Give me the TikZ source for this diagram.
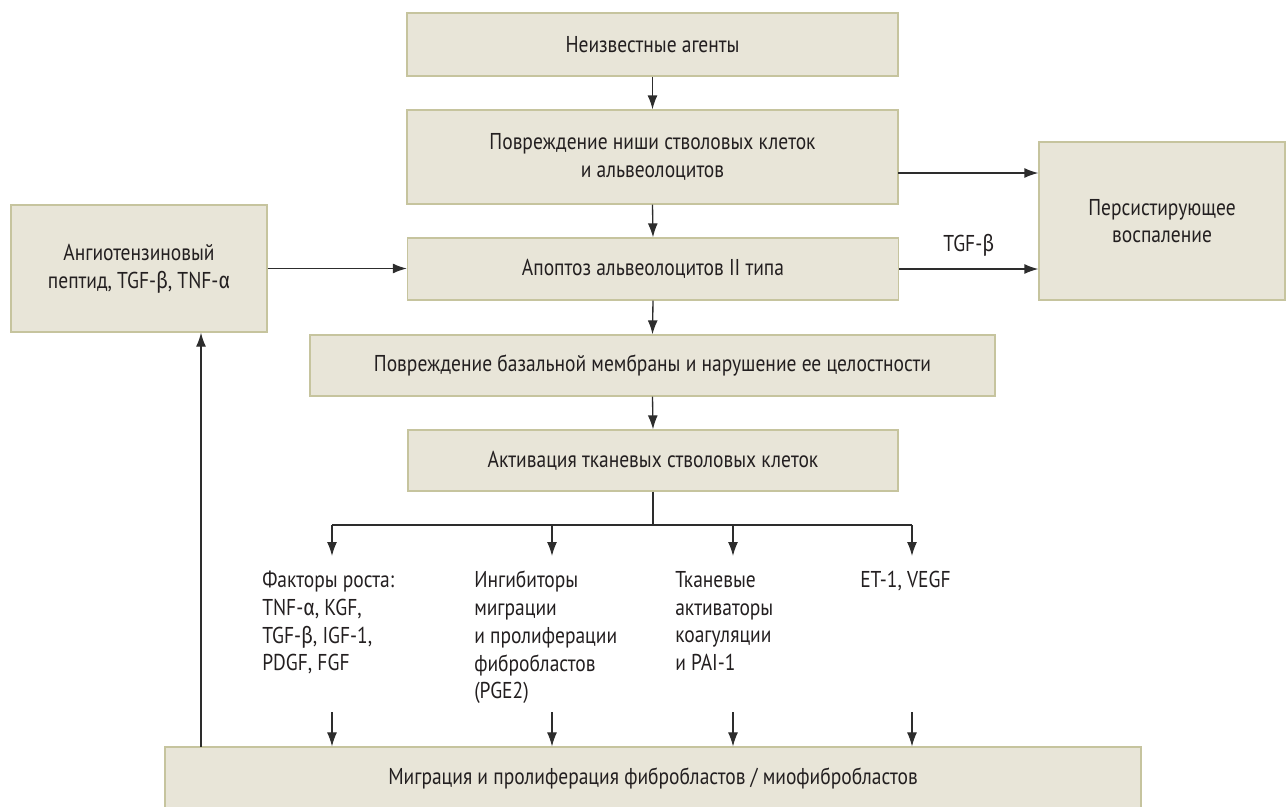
\documentclass[tikz,border=0pt]{standalone}
\usepackage{fontspec}
\setmainfont{PT Sans}[FakeStretch=0.85]
\newfontfamily\grk{Fira Sans}[FakeStretch=0.85]
\newcommand\galpha{{\grk α}}
\newcommand\gbeta{{\grk β}}
\usetikzlibrary{arrows.meta}
\definecolor{boxfill}{RGB}{232,229,216}
\definecolor{boxline}{RGB}{198,196,158}
\definecolor{arrcol}{RGB}{45,45,45}
\definecolor{txtcol}{RGB}{35,31,32}
\newcommand\fsmain{\fontsize{17.2}{20.8}\selectfont}
\tikzset{
  blk/.style={draw=boxline, fill=boxfill, line width=1pt, inner sep=0pt, align=center, font=\fsmain, text=txtcol},
  conn/.style={draw=arrcol, line width=1pt, -{Latex[length=10.5pt,width=7.5pt]}},
  plain/.style={draw=arrcol, line width=1pt},
  lbl/.style={inner sep=0pt, align=left, font=\fsmain, text=txtcol, anchor=north west},
}
\begin{document}
\begin{tikzpicture}[x=0.75pt,y=-0.75pt]
\useasboundingbox (0,0) rectangle (1286,807);
% boxes
\node[blk, minimum width={491*0.75pt}, minimum height={63*0.75pt}] (b1) at (652.5,44.5) {Неизвестные агенты};
\node[blk, minimum width={491*0.75pt}, minimum height={94*0.75pt}] (b2) at (652.5,157) {Повреждение ниши стволовых клеток\\и альвеолоцитов};
\node[blk, minimum width={491*0.75pt}, minimum height={62*0.75pt}] (b3) at (653,269) {Апоптоз альвеолоцитов II типа};
\node[blk, minimum width={256*0.75pt}, minimum height={127*0.75pt}] (bl) at (139,268.5) {Ангиотензиновый\\пептид, TGF-\gbeta, TNF-\galpha};
\node[blk, minimum width={246*0.75pt}, minimum height={158*0.75pt}] (br) at (1162,221) {Персистирующее\\воспаление};
\node[blk, minimum width={685*0.75pt}, minimum height={61*0.75pt}] (b4) at (652.5,365.5) {Повреждение базальной мембраны и нарушение ее целостности};
\node[blk, minimum width={490*0.75pt}, minimum height={61*0.75pt}] (b5) at (653,460.5) {Активация тканевых стволовых клеток};
\node[blk, minimum width={976*0.75pt}, minimum height={62*0.75pt}] (bm) at (653,778) {Миграция и пролиферация фибробластов / миофибробластов};
% text columns
\node[lbl] (t1) at (262,571) {Факторы роста:\\TNF-\galpha, KGF,\\TGF-\gbeta, IGF-1,\\PDGF, FGF};
\node[lbl] (t2) at (474,571) {Ингибиторы\\миграции\\и пролиферации\\фибробластов\\(PGE2)};
\node[lbl] (t3) at (675,571) {Тканевые\\активаторы\\коагуляции\\и PAI-1};
\node[lbl] (t4) at (860,571) {ET-1, VEGF};
% main chain
\draw[conn] (b1.south) -- (b2.north);
\draw[conn] (b2.south) -- (b3.north);
\draw[conn] (b3.south) -- (b4.north);
\draw[conn] (b4.south) -- (b5.north);
% side arrows
\coordinate (p2) at (898,173);
\draw[conn] (p2) -- (p2 -| br.west);
\draw[conn] (b3.east) -- (b3.east -| br.west) node[midway, above=9pt, inner sep=0pt, font=\fsmain, text=txtcol] (tgf) {TGF-\gbeta};
\draw[conn] (bl.east) -- (bl.east -| b3.west);
% branch
\coordinate (j) at (653,525);
\coordinate (ja) at (332,525);
\coordinate (jb) at (552,525);
\coordinate (jc) at (733,525);
\coordinate (jd) at (912,525);
\draw[plain] (b5.south) -- (j);
\draw[plain] (ja) -- (jd);
\foreach \c in {ja,jb,jc,jd} \draw[conn] (\c) -- ++(0,31);
% lower arrows
\foreach \x in {332,552,733,912} {
  \coordinate (s\x) at (\x,712);
  \draw[conn, line width=0.8pt] (s\x) -- (s\x |- bm.north);
}
% feedback
\coordinate (fb) at (201,747);
\draw[conn] (fb) -- (fb |- bl.south);
\end{tikzpicture}
\end{document}
